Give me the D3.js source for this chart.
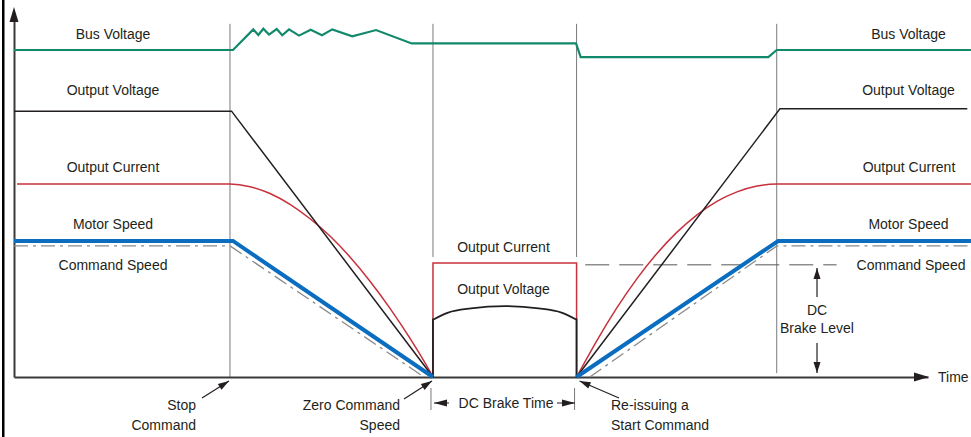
<!DOCTYPE html>
<html><head><meta charset="utf-8">
<script src="https://cdn.jsdelivr.net/npm/d3@7"></script>
<style>
html,body{margin:0;padding:0;background:#fff;}
svg{display:block;}
text{font-family:"Liberation Sans",Arial,Helvetica,sans-serif;font-size:14px;fill:#231f20;}
</style>
</head><body>
<svg id="chart" width="971" height="437"></svg>
<script>
// ---------- DATA (time units 0..100, level units 0..100) ----------
const eventTimes = [23.63, 45.84, 61.55, 83.45];   // stop, zero speed, restart, full speed
const busVoltage = [[0,100],[23.96,100],[26.18,106.3],[26.73,104.6],[27.28,106.5],[27.9,104.7],[28.74,106.4],[29.35,104.5],[30.09,106.3],[31.18,104.4],[32.46,106.2],[33.7,104.5],[34.82,106.3],[37.01,104.2],[39.61,106.1],[43.51,102.0],[61.49,102.0],[62.0,97.8],[82.53,97.8],[83.45,100],[104.7,100]];
const outputVoltage = [[0,81.3],[23.8,81.3],[45.84,0]];
const outputVoltageRestart = [[61.55,0],[83.8,82.0],[104.3,82.0]];
const brakeVoltage = [[45.9,17.6],[47.5,19.7],[50.0,21.0],[53.7,21.7],[57.4,21.0],[59.9,19.7],[61.5,17.6]];
const outputCurrent = [[0.33,59],[23.63,59],[25.82,58.2],[28.01,56.1],[30.2,52.8],[32.39,48.4],[34.57,43.1],[36.76,36.7],[38.95,29.3],[41.14,21.0],[43.33,11.8],[44.97,4.3],[45.84,0]];
const outputCurrentRestart = [[61.55,0],[62.69,5.75],[63.79,11.2],[65.97,21.2],[68.16,30.1],[70.35,37.8],[72.54,44.3],[74.73,49.6],[76.91,53.7],[79.1,56.6],[81.29,58.4],[83.48,59],[104.7,59]];
const brakeCurrent = [[45.84,0],[45.84,34.9],[61.55,34.9],[61.55,0]];
const motorSpeed = [[0,41.6],[23.96,41.6],[45.84,0]];
const motorSpeedRestart = [[61.55,0],[83.6,41.6],[104.7,41.6]];
const commandSpeed = [[0,40.1],[23.63,40.1],[44.86,0]];
const commandSpeedRestart = [[63.0,0],[83.48,40.1],[104.7,40.1]];
const brakeLevel = [[62.5,34.3],[90.0,34.3]];
const leftLabels = ["Bus Voltage","Output Voltage","Output Current","Motor Speed","Command Speed"];
const rightLabels = ["Bus Voltage","Output Voltage","Output Current","Motor Speed","Command Speed"];
const brakeLabels = ["Output Current","Output Voltage"];

// ---------- SCALES ----------
const svg = d3.select("#chart");
const x = d3.scaleLinear().domain([0,100]).range([14,928]);
const y = d3.scaleLinear().domain([0,100]).range([377,50]);
const line = d3.line().x(d=>x(d[0])).y(d=>y(d[1]));
const smooth = d3.line().x(d=>x(d[0])).y(d=>y(d[1])).curve(d3.curveMonotoneX);

const C = {green:"#12896b", black:"#231f20", red:"#c8303b", blue:"#0a6dbf", dash:"#8a8a8a", grid:"#7a7a7a", axis:"#3a3a3a"};

// left frame bar
svg.append("rect").attr("x",2).attr("y",0).attr("width",2.5).attr("height",437).attr("fill","#000");

// vertical event lines
const vTop = 108;
const vBottoms = [0, 36.7, 36.7, 1.2];
svg.append("g").selectAll("line").data(eventTimes).join("line")
  .attr("x1",d=>x(d)).attr("x2",d=>x(d))
  .attr("y1",y(vTop)).attr("y2",(d,i)=>y(vBottoms[i]))
  .attr("stroke",C.grid).attr("stroke-width",1);

// axes
const xAxisG = svg.append("g").attr("transform",`translate(0,${y(0)})`)
  .call(d3.axisBottom(x).ticks(0).tickSize(0).tickSizeOuter(0));
xAxisG.select(".domain").attr("stroke",C.axis).attr("stroke-width",2);
const yAxisScale = d3.scaleLinear().domain([0,110]).range([y(0), y(0)-360]);
const yAxisG = svg.append("g").attr("transform",`translate(${x(0)},0)`)
  .call(d3.axisLeft(yAxisScale).ticks(0).tickSize(0).tickSizeOuter(0));
yAxisG.select(".domain").attr("stroke",C.axis).attr("stroke-width",2);
// arrowheads of axes
svg.append("path").attr("d",`M${x(0)},7 L${x(0)-4.5},22 L${x(0)+4.5},22 Z`).attr("fill",C.black);
svg.append("path").attr("d",`M929,${y(0)} L914,${y(0)-4.5} L914,${y(0)+4.5} Z`).attr("fill",C.black);
svg.append("text").attr("x",938).attr("y",y(0)+5).text("Time");

// series
function draw(data, gen, color, width, dash){
  const p = svg.append("path").datum(data).attr("d",gen).attr("fill","none")
    .attr("stroke",color).attr("stroke-width",width).attr("stroke-linejoin","miter");
  if(dash) p.attr("stroke-dasharray",dash);
  return p;
}
draw(brakeLevel, line, "#555", 1, "24,10");
draw(commandSpeed, line, C.dash, 1.3, "14,5,3,5");
draw(commandSpeedRestart, line, C.dash, 1.3, "14,5,3,5");
draw(busVoltage, line, C.green, 2.2);
draw(outputCurrent, smooth, C.red, 1.5);
draw(outputCurrentRestart, smooth, C.red, 1.5);
draw(brakeCurrent, line, C.red, 1.5);
draw(outputVoltage, line, C.black, 1.5);
draw(outputVoltageRestart, line, C.black, 1.5);
draw(brakeVoltage, smooth, C.black, 1.8);
// vertical edges of the braking voltage
const bv0 = brakeVoltage[0], bv1 = brakeVoltage[brakeVoltage.length-1];
draw([[eventTimes[1],0],[eventTimes[1],bv0[1]],bv0], line, C.black, 1.8);
draw([bv1,[eventTimes[2],bv1[1]],[eventTimes[2],0]], line, C.black, 1.8);
draw(motorSpeed, line, C.blue, 4);
draw(motorSpeedRestart, line, C.blue, 4);

// labels
const labelY = [39, 95, 172, 229, 270];
svg.append("g").selectAll("text").data(leftLabels).join("text")
  .attr("x",113).attr("y",(d,i)=>labelY[i]).attr("text-anchor","middle").text(d=>d);
const rLabelX = [908.5, 908.5, 909, 908.5, 911];
svg.append("g").selectAll("text").data(rightLabels).join("text")
  .attr("x",(d,i)=>rLabelX[i]).attr("y",(d,i)=>labelY[i]).attr("text-anchor","middle").text(d=>d);
svg.append("g").selectAll("text").data(brakeLabels).join("text")
  .attr("x",503.5).attr("y",(d,i)=>[252,294][i]).attr("text-anchor","middle").text(d=>d);

// arrow helper
function arrow(x1,y1,x2,y2,len=11,half=3.5,w=1.2){
  svg.append("line").attr("x1",x1).attr("y1",y1).attr("x2",x2).attr("y2",y2)
    .attr("stroke",C.black).attr("stroke-width",w);
  const a = Math.atan2(y2-y1,x2-x1);
  const bx = x2-len*Math.cos(a), by = y2-len*Math.sin(a);
  const px = -Math.sin(a)*half, py = Math.cos(a)*half;
  svg.append("path").attr("d",`M${x2},${y2} L${bx+px},${by+py} L${bx-px},${by-py} Z`).attr("fill",C.black);
}

// bottom annotations
arrow(202,398, x(eventTimes[0])-1,381);
svg.append("text").attr("x",196).attr("y",410).attr("text-anchor","end").text("Stop");
svg.append("text").attr("x",196).attr("y",430).attr("text-anchor","end").text("Command");

arrow(404,399, x(eventTimes[1])-1,381);
svg.append("text").attr("x",400).attr("y",410).attr("text-anchor","end").text("Zero Command");
svg.append("text").attr("x",400).attr("y",430).attr("text-anchor","end").text("Speed");

arrow(619,398, x(eventTimes[2])+3,381);
svg.append("text").attr("x",611).attr("y",410).text("Re-issuing a");
svg.append("text").attr("x",611).attr("y",430).text("Start Command");

// DC brake time dimension
[eventTimes[1], eventTimes[2]].forEach(t=>{
  svg.append("line").attr("x1",x(t)-2).attr("x2",x(t)-2).attr("y1",388).attr("y2",410)
    .attr("stroke",C.grid).attr("stroke-width",1);
});
arrow(449,403, 434,403, 13,3.5,1);
arrow(557,403, 575,403, 13,3.5,1);
svg.append("text").attr("x",506).attr("y",408).attr("text-anchor","middle").text("DC Brake Time");

// DC brake level dimension
arrow(817,297, 817,268, 11,3.5,1.2);
arrow(817,343, 817,373, 11,3.5,1.2);
svg.append("text").attr("x",817).attr("y",315).attr("text-anchor","middle").text("DC");
svg.append("text").attr("x",817).attr("y",333).attr("text-anchor","middle").text("Brake Level");
</script>
</body></html>
